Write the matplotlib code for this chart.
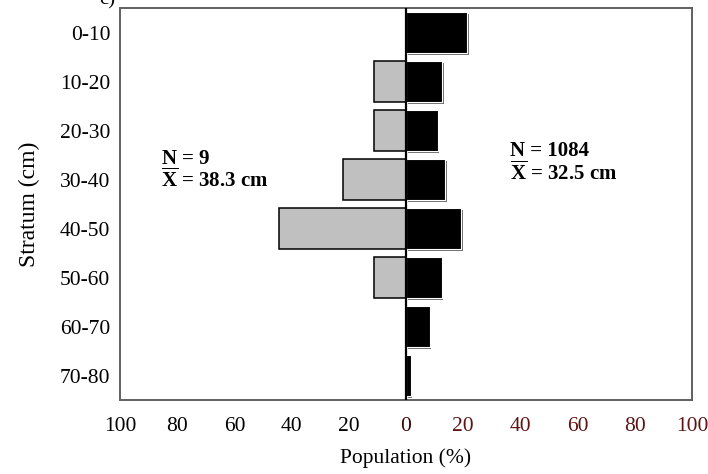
# 층위별 개체군 비율 (좌: N=9, 우: N=1084)

import numpy as np
import matplotlib.pyplot as plt
import matplotlib.patheffects as pe

plt.rcParams['font.family'] = ['Liberation Serif', 'DejaVu Serif']
plt.rcParams['mathtext.fontset'] = 'custom'
plt.rcParams['mathtext.bf'] = 'Liberation Serif:bold'
plt.rcParams['mathtext.rm'] = 'Liberation Serif'

# 데이터
strata = ['0-10', '10-20', '20-30', '30-40', '40-50', '50-60', '60-70', '70-80']
left_pct = [0, 11.1, 11.1, 22.2, 44.4, 11.1, 0, 0]          # N = 9
right_pct = [21.3, 12.7, 11.1, 13.6, 19.3, 12.4, 8.3, 1.6]  # N = 1084
xticks = [-100, -80, -60, -40, -20, 0, 20, 40, 60, 80, 100]

fig = plt.figure(figsize=(7.08, 4.74), dpi=100)
ax = fig.add_axes([0.1695, 0.1561, 0.808, 0.827])

y = np.arange(len(strata))
h = 0.84

# 왼쪽 (회색), 오른쪽 (검정 + 그림자)
ax.barh(y, -np.array(left_pct), height=h, color='#c0c0c0', edgecolor='black', linewidth=1.1, zorder=2)
ax.barh(y, right_pct, height=h, color='black', edgecolor='white', linewidth=0.8, zorder=2,
        path_effects=[pe.SimplePatchShadow(offset=(1.2, -1.2), shadow_rgbFace='#707070', alpha=1), pe.Normal()])
ax.axvline(0, color='black', linewidth=1.6, zorder=3)

ax.set_xlim(-100, 100)
ax.set_ylim(len(strata) - 0.5, -0.5)
ax.set_yticks(y)
ax.set_yticklabels(strata, fontsize=15.5)
ax.set_xticks(xticks)
ax.set_xticklabels([str(abs(v)) for v in xticks], fontsize=15.5)
ax.tick_params(axis='both', length=0)
ax.tick_params(axis='y', pad=7)
ax.tick_params(axis='x', pad=12)

# 오른쪽 눈금 라벨 색
for lab, v in zip(ax.get_xticklabels(), xticks):
    if v > 0:
        lab.set_color('#5e1414')
    elif v == 0:
        lab.set_color('#3a0606')

for s in ax.spines.values():
    s.set_color('#606060')
    s.set_linewidth(1.4)

ax.set_xlabel('Population (%)', fontsize=15.5, labelpad=9)
ax.set_ylabel('Stratum (cm)', fontsize=17, labelpad=14)

# 주석
ax.text(-85.5, 2.58, r'$\mathbf{N}$ = 9', fontsize=15, fontweight='bold', va='center')
ax.text(-85.5, 3.02, r'$\overline{\mathbf{X}}$ = 38.3 cm', fontsize=15, fontweight='bold', va='center')
ax.text(36.5, 2.42, 'N = 1084', fontsize=15, fontweight='bold', va='center')
ax.text(36.5, 2.86, r'$\overline{\mathbf{X}}$ = 32.5 cm', fontsize=15, fontweight='bold', va='center')

fig.text(0.152, 1.0, 'c)', fontsize=15, va='center', ha='center')

plt.savefig('out.png', dpi=100)
